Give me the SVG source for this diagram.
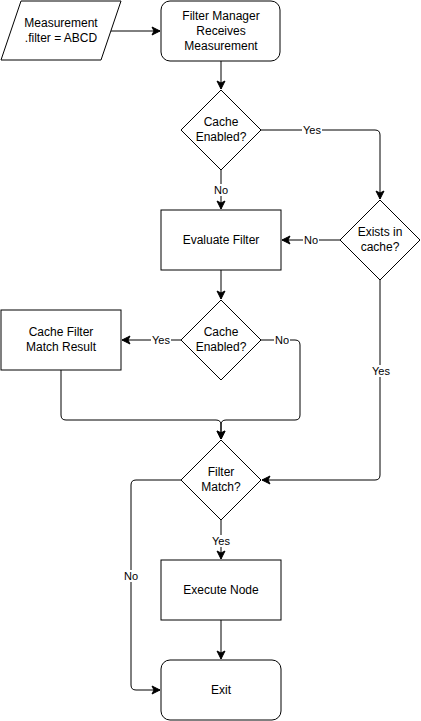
<svg xmlns="http://www.w3.org/2000/svg" width="421" height="721" viewBox="0 0 421 721">
<style>
.n{fill:#fff;stroke:#000;stroke-width:1}
.t{font-family:"Liberation Sans",Arial,sans-serif;font-size:12px;fill:#000;text-anchor:middle}
.l{font-family:"Liberation Sans",Arial,sans-serif;font-size:11px;fill:#000;text-anchor:middle}
.e{fill:none;stroke:#000;stroke-width:1}
.bg{fill:#fff}
</style>
<defs>
<marker id="a" viewBox="0 0 10 10" refX="9" refY="5" markerWidth="10" markerHeight="10" markerUnits="userSpaceOnUse" orient="auto">
<path d="M1,1 L9,5 L1,9 L3,5 z" fill="#000" stroke="#000" stroke-width="1"/>
</marker>
</defs>
<rect width="421" height="721" fill="#fff"/>
<g id="connectors">
<path class="e" d="M111,31 H160" marker-end="url(#a)"/>
<path class="e" d="M221,61 V89" marker-end="url(#a)"/>
<path class="e" d="M261,130 H375 Q380,130 380,135 V199" marker-end="url(#a)"/>
<path class="e" d="M221,170 V209" marker-end="url(#a)"/>
<path class="e" d="M340,240 H282" marker-end="url(#a)"/>
<path class="e" d="M221,270 V299" marker-end="url(#a)"/>
<path class="e" d="M181,340 H122" marker-end="url(#a)"/>
<path class="e" d="M261,340 H295 Q300,340 300,345 V415 Q300,420 295,420 H226 Q221,420 221,425 V439" marker-end="url(#a)"/>
<path class="e" d="M61,370 V415 Q61,420 66,420 H216 Q221,420 221,425 V439" marker-end="url(#a)"/>
<path class="e" d="M380,280 V475 Q380,480 375,480 H262" marker-end="url(#a)"/>
<path class="e" d="M221,520 V559" marker-end="url(#a)"/>
<path class="e" d="M181,480 H136 Q131,480 131,485 V685 Q131,690 136,690 H160" marker-end="url(#a)"/>
<path class="e" d="M221,620 V659" marker-end="url(#a)"/>
<rect class="bg" x="302" y="124" width="20" height="12"/>
<text class="l" x="312" y="134">Yes</text>
<rect class="bg" x="213" y="184" width="16" height="12"/>
<text class="l" x="221" y="194">No</text>
<rect class="bg" x="303" y="234" width="16" height="12"/>
<text class="l" x="311" y="244">No</text>
<rect class="bg" x="151" y="334" width="20" height="12"/>
<text class="l" x="161" y="344">Yes</text>
<rect class="bg" x="274" y="334" width="16" height="12"/>
<text class="l" x="282" y="344">No</text>
<rect class="bg" x="371" y="365" width="20" height="12"/>
<text class="l" x="381" y="375">Yes</text>
<rect class="bg" x="211" y="535" width="20" height="12"/>
<text class="l" x="221" y="545">Yes</text>
<rect class="bg" x="123" y="570" width="16" height="12"/>
<text class="l" x="131" y="580">No</text>
</g>
<g id="measurement">
<path class="n" d="M21,1 H121 L101,60 H1 Z"/>
<text class="t" x="61" y="27">Measurement</text>
<text class="t" x="61" y="42">.filter = ABCD</text>
</g>
<g id="filter-manager">
<rect class="n" x="161" y="1" width="119" height="60" rx="9"/>
<text class="t" x="221" y="20">Filter Manager</text>
<text class="t" x="221" y="35">Receives</text>
<text class="t" x="221" y="50">Measurement</text>
</g>
<g id="cache-enabled-1">
<path class="n" d="M221,90 L261,130 L221,170 L181,130 Z"/>
<text class="t" x="221" y="126">Cache</text>
<text class="t" x="221" y="141">Enabled?</text>
</g>
<g id="exists-in-cache">
<path class="n" d="M380,200 L420,240 L380,280 L340,240 Z"/>
<text class="t" x="380" y="236">Exists in</text>
<text class="t" x="380" y="251">cache?</text>
</g>
<g id="evaluate-filter">
<rect class="n" x="161" y="210" width="120" height="60"/>
<text class="t" x="221" y="244">Evaluate Filter</text>
</g>
<g id="cache-enabled-2">
<path class="n" d="M221,300 L261,340 L221,380 L181,340 Z"/>
<text class="t" x="221" y="336">Cache</text>
<text class="t" x="221" y="351">Enabled?</text>
</g>
<g id="cache-filter-match-result">
<rect class="n" x="1" y="310" width="120" height="60"/>
<text class="t" x="61" y="336">Cache Filter</text>
<text class="t" x="61" y="351">Match Result</text>
</g>
<g id="filter-match">
<path class="n" d="M221,440 L261,480 L221,520 L181,480 Z"/>
<text class="t" x="221" y="476">Filter</text>
<text class="t" x="221" y="491">Match?</text>
</g>
<g id="execute-node">
<rect class="n" x="161" y="560" width="120" height="60"/>
<text class="t" x="221" y="594">Execute Node</text>
</g>
<g id="exit">
<rect class="n" x="161" y="660" width="120" height="60" rx="9"/>
<text class="t" x="221" y="694">Exit</text>
</g>
</svg>
